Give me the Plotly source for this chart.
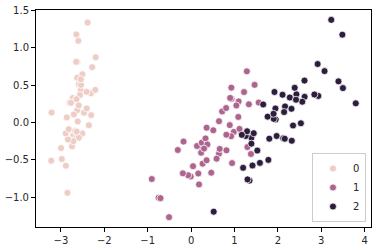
import plotly.graph_objects as go

pc1_0 = [-2.684, -2.714, -2.889, -2.745, -2.729, -2.281, -2.821, -2.626, -2.886, -2.673,
         -2.507, -2.613, -2.786, -3.224, -2.645, -2.386, -2.624, -2.648, -2.200, -2.588,
         -2.310, -2.544, -3.216, -2.303, -2.356, -2.507, -2.469, -2.562, -2.640, -2.632,
         -2.587, -2.410, -2.649, -2.599, -2.637, -2.866, -2.625, -2.801, -2.981, -2.590,
         -2.770, -2.849, -2.997, -2.406, -2.209, -2.714, -2.538, -2.839, -2.543, -2.703]
pc2_0 = [0.319, -0.177, -0.145, -0.318, 0.327, 0.741, -0.089, 0.163, -0.578, -0.114,
         0.645, 0.015, -0.235, -0.511, 1.179, 1.338, 0.811, 0.312, 0.873, 0.514,
         0.391, 0.433, 0.133, 0.099, -0.037, -0.146, 0.131, 0.368, 0.312, -0.197,
         -0.204, 0.411, 0.813, 1.093, -0.121, 0.069, 0.599, 0.269, -0.488, 0.229,
         0.264, -0.941, -0.342, 0.189, 0.437, -0.250, 0.504, -0.228, 0.579, 0.108]

pc1_1 = [1.285, 0.932, 1.464, 0.183, 1.088, 0.642, 1.095, -0.749, 1.044, -0.009,
         -0.508, 0.512, 0.265, 0.985, -0.174, 0.928, 0.660, 0.236, 0.945, 0.045,
         1.116, 0.358, 1.298, 0.922, 0.715, 0.900, 1.332, 1.558, 0.813, -0.306,
         -0.068, -0.190, 0.136, 1.380, 0.588, 0.807, 1.221, 0.815, 0.246, 0.166,
         0.465, 0.891, 0.231, -0.705, 0.357, 0.332, 0.376, 0.643, -0.906, 0.299]
pc2_1 = [0.685, 0.318, 0.504, -0.828, 0.075, -0.418, 0.283, -1.005, 0.228, -0.723,
         -1.266, -0.104, -0.550, -0.125, -0.255, 0.467, -0.353, -0.334, -0.543, -0.584,
         -0.085, -0.069, -0.328, -0.183, 0.149, 0.329, 0.244, 0.267, -0.163, -0.368,
         -0.705, -0.680, -0.314, -0.421, -0.484, 0.194, 0.408, -0.372, -0.269, -0.682,
         -0.671, -0.034, -0.404, -1.012, -0.505, -0.213, -0.293, 0.018, -0.756, -0.349]

pc1_2 = [2.531, 1.415, 2.617, 1.972, 2.350, 3.397, 0.521, 2.933, 2.321, 2.917,
         1.662, 1.803, 2.166, 1.346, 1.586, 1.904, 1.950, 3.487, 3.796, 1.301,
         2.428, 1.199, 3.500, 1.389, 2.275, 2.614, 1.259, 1.291, 2.124, 2.388,
         2.842, 3.231, 2.159, 1.444, 1.781, 3.076, 2.144, 1.905, 1.169, 2.108,
         2.314, 1.922, 1.415, 2.563, 2.419, 1.944, 1.527, 1.764, 1.901, 1.390]
pc2_2 = [-0.010, -0.575, 0.344, -0.180, -0.040, 0.551, -1.193, 0.356, -0.244, 0.783,
         0.242, -0.216, 0.216, -0.777, -0.540, 0.119, 0.042, 1.176, 0.257, -0.761,
         0.378, -0.606, 0.461, -0.204, 0.335, 0.561, -0.180, -0.117, -0.210, 0.465,
         0.375, 1.374, -0.217, -0.143, -0.500, 0.688, 0.140, 0.049, -0.165, 0.372,
         0.184, 0.409, -0.575, 0.278, 0.305, 0.188, -0.375, 0.079, 0.117, -0.283]

labels = ["0", "1", "2"]
colors = ["#eecdc6", "#ad6590", "#2d1e3e"]
xs = [pc1_0, pc1_1, pc1_2]
ys = [pc2_0, pc2_1, pc2_2]

fig = go.Figure()
for lab, c, x, y in zip(labels, colors, xs, ys):
    fig.add_trace(go.Scatter(
        x=x, y=y, mode="markers", name=lab,
        marker=dict(color=c, size=7, line=dict(color="white", width=0.75)),
    ))

axis_common = dict(
    showgrid=False, zeroline=False, showline=True, linecolor="black", linewidth=1,
    mirror=True, ticks="outside", ticklen=4, tickcolor="black", tickwidth=1,
    tickfont=dict(family="DejaVu Sans", size=10, color="#262626"),
    automargin=False,
)
fig.update_xaxes(range=[-3.575, 4.147], tickvals=[-3, -2, -1, 0, 1, 2, 3, 4],
                 ticktext=["\u22123", "\u22122", "\u22121", "0", "1", "2", "3", "4"], **axis_common)
fig.update_yaxes(range=[-1.398, 1.506], tickvals=[-1.0, -0.5, 0.0, 0.5, 1.0, 1.5],
                 ticktext=["\u22121.0", "\u22120.5", "0.0", "0.5", "1.0", "1.5"], **axis_common)

fig.update_layout(
    width=391, height=250,
    margin=dict(l=36, r=20, t=10, b=23, autoexpand=False),
    plot_bgcolor="white", paper_bgcolor="white",
    legend=dict(x=0.985, y=0.023, xanchor="right", yanchor="bottom",
                bgcolor="rgba(255,255,255,0.8)", bordercolor="#cccccc", borderwidth=1,
                font=dict(family="DejaVu Sans", size=10, color="#262626"),
                itemwidth=30, tracegroupgap=0),
    showlegend=True,
)

fig.write_html("out.html")
